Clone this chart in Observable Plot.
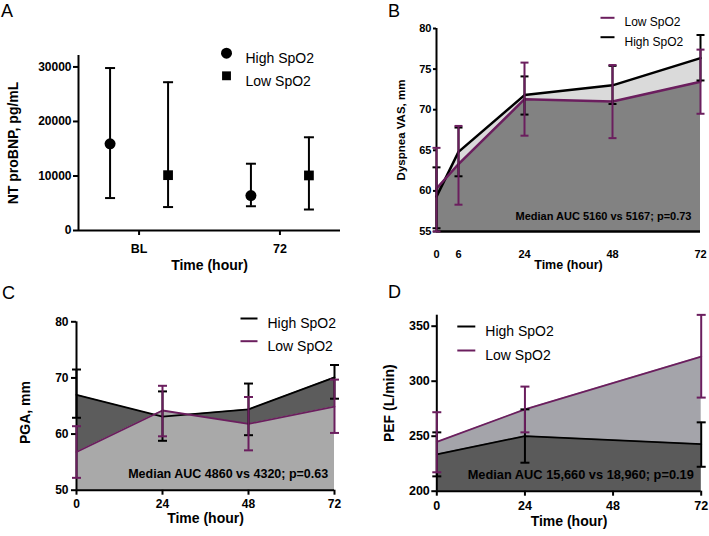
<!DOCTYPE html>
<html><head><meta charset="utf-8">
<script src="https://cdn.jsdelivr.net/npm/d3@7"></script>
<script src="https://cdn.jsdelivr.net/npm/@observablehq/plot@0.6"></script>
<style>
body{margin:0;background:#fff;}
#root{position:relative;width:709px;height:536px;overflow:hidden;font-family:Arial,"Liberation Sans",Helvetica,sans-serif;background:#fff;}
.letter{position:absolute;font-size:18px;line-height:1;color:#000;font-family:Arial,"Liberation Sans",Helvetica,sans-serif;}
</style></head><body><div id="root"></div>
<script>
// ---------- DATA ----------
const groupNames = ["High SpO2", "Low SpO2"];
const timeTitle = "Time (hour)";

// Panel A: NT proBNP (median, IQR)
const ntTimes = ["BL", "72"];
const ntHigh = [15900, 6400];
const ntHighLo = [5950, 4450];
const ntHighHi = [29800, 12250];
const ntLow = [10150, 10100];
const ntLowLo = [4300, 3850];
const ntLowHi = [27200, 17100];
const ntTicks = [0, 10000, 20000, 30000];
const ntTitle = "NT proBNP, pg/mL";

// Panel B: Dyspnea VAS
const dysTimes = [0, 6, 24, 48, 72];
const dysHigh = [59.3, 64.8, 71.8, 73.0, 76.35];
const dysHighLo = [55.4, 61.8, 69.4, 70.7, 73.6];
const dysHighHi = [62.9, 67.8, 74.1, 75.4, 79.2];
const dysLow = [60.3, 63.3, 71.3, 71.0, 73.45];
const dysLowLo = [55.0, 58.3, 66.8, 66.5, 69.5];
const dysLowHi = [65.3, 68.0, 75.8, 75.5, 77.4];
const dysTicks = [55, 60, 65, 70, 75, 80];
const dysTitle = "Dyspnea VAS, mm";
const dysNote = "Median AUC 5160 vs 5167; p=0.73";

// Panel C: PGA
const pgaTimes = [0, 24, 48, 72];
const pgaHigh = [67.0, 63.1, 64.4, 70.1];
const pgaHighLo = [62.9, 58.8, 59.8, 66.3];
const pgaHighHi = [71.5, 67.6, 69.0, 72.3];
const pgaLow = [56.8, 64.2, 61.8, 64.9];
const pgaLowLo = [52.2, 59.6, 57.1, 60.2];
const pgaLowHi = [61.4, 68.6, 66.6, 69.7];
const pgaTicks = [50, 60, 70, 80];
const pgaTitle = "PGA, mm";
const pgaNote = "Median AUC 4860 vs 4320; p=0.63";

// Panel D: PEF
const pefTimes = [0, 24, 72];
const pefHigh = [233.5, 250.1, 242.8];
const pefHighLo = [213.5, 225.9, 222.2];
const pefHighHi = [253.5, 274.4, 262.6];
const pefLow = [244.8, 274.4, 322.4];
const pefLowLo = [217.2, 253.5, 285.1];
const pefLowHi = [271.8, 295.1, 360.3];
const pefTicks = [200, 250, 300, 350];
const pefXTicks = [0, 24, 48, 72];
const pefTitle = "PEF (L/min)";
const pefNote = "Median AUC 15,660 vs 18,960; p=0.19";

// ---------- HELPERS ----------
const FONT = 'Arial, "Liberation Sans", Helvetica, sans-serif';
const PURPLE = "#6b1e5e";
const root = document.getElementById("root");
const cap = w => ({draw(ctx) { ctx.moveTo(-w, 0); ctx.lineTo(w, 0); }});
const rowsOf = (times, h, hl, hh, l, ll, lh) =>
  times.map((t, i) => ({t, i, high: h[i], highLo: hl[i], highHi: hh[i], low: l[i], lowLo: ll[i], lowHi: lh[i]}));
const baseStyle = {fontFamily: FONT, fontWeight: "bold", background: "transparent", overflow: "visible", color: "black"};
function place(svg, left, top) {
  svg.style.position = "absolute";
  svg.style.left = left + "px";
  svg.style.top = top + "px";
  root.appendChild(svg);
}
function letter(txt, left, top) {
  const d = document.createElement("div");
  d.className = "letter"; d.textContent = txt;
  d.style.left = left + "px"; d.style.top = top + "px";
  root.appendChild(d);
}
function errorBars(rows, lo, hi, color, w, sw, dx = 0) {
  return [
    Plot.ruleX(rows, {x: "t", y1: lo, y2: hi, stroke: color, strokeWidth: sw, dx}),
    Plot.dot(rows, {x: "t", y: lo, symbol: cap(w), fill: "none", stroke: color, strokeWidth: sw, dx}),
    Plot.dot(rows, {x: "t", y: hi, symbol: cap(w), fill: "none", stroke: color, strokeWidth: sw, dx})
  ];
}
function legendLine(name, color, half, fs, dx, dy) {
  return [
    Plot.dot([name], {frameAnchor: "top-left", dx, dy, symbol: cap(half), fill: "none", stroke: color, strokeWidth: 2}),
    Plot.text([name], {frameAnchor: "top-left", dx: dx + half + 10, dy, text: d => d, textAnchor: "start", fontWeight: "normal", fontSize: fs, fill: "black"})
  ];
}
function titles(xTitle, yTitle, xs, ys) {
  return [
    Plot.text([xTitle], {frameAnchor: "bottom", dy: xs.dy, text: d => d, fontSize: xs.fs, textAnchor: "middle"}),
    Plot.text([yTitle], {frameAnchor: "left", dx: ys.dx, dy: ys.dy || 0, rotate: -90, text: d => d, fontSize: ys.fs, textAnchor: "middle"})
  ];
}
function note(txt, fs, dx, dy) {
  return Plot.text([txt], {frameAnchor: "bottom-right", dx, dy, text: d => d, textAnchor: "end", fontSize: fs});
}

// ---------- PANEL A ----------
const aRows = ntTimes.map((c, i) => ({t: i, c, high: ntHigh[i], highLo: ntHighLo[i], highHi: ntHighHi[i], low: ntLow[i], lowLo: ntLowLo[i], lowHi: ntLowHi[i]}));
const aX = [-0.43, 1.43];
const aY = [0, 32100];
place(Plot.plot({
  width: 354, height: 268, marginLeft: 78, marginRight: 14, marginTop: 55, marginBottom: 38,
  x: {type: "linear", domain: aX}, y: {domain: aY},
  style: baseStyle,
  marks: [
    Plot.ruleX([aX[0]], {strokeWidth: 2}),
    Plot.ruleY([aY[0]], {strokeWidth: 2}),
    Plot.axisY({ticks: ntTicks, tickFormat: d3.format("d"), tickSize: 5, tickPadding: 2, fontSize: 12, strokeWidth: 2, label: null}),
    Plot.axisX({ticks: [0, 1], tickFormat: i => ntTimes[i], tickSize: 5, tickPadding: 9, fontSize: 12.5, strokeWidth: 2, label: null}),
    ...errorBars(aRows, "highLo", "highHi", "black", 5, 2, -29),
    ...errorBars(aRows, "lowLo", "lowHi", "black", 5, 2, 29),
    Plot.dot(aRows, {x: "t", y: "high", dx: -29, symbol: "circle", r: 5.5, fill: "black"}),
    Plot.dot(aRows, {x: "t", y: "low", dx: 29, symbol: "square", r: 5.5, fill: "black"}),
    Plot.dot([groupNames[0]], {frameAnchor: "top-left", dx: 148, dy: -2.3, symbol: "circle", r: 5.5, fill: "black"}),
    Plot.text([groupNames[0]], {frameAnchor: "top-left", dx: 167, dy: -2.3, text: d => d, textAnchor: "start", fontWeight: "normal", fontSize: 14}),
    Plot.dot([groupNames[1]], {frameAnchor: "top-left", dx: 148, dy: 20.3, symbol: "square", r: 5, fill: "black"}),
    Plot.text([groupNames[1]], {frameAnchor: "top-left", dx: 167, dy: 20.3, text: d => d, textAnchor: "start", fontWeight: "normal", fontSize: 14}),
    ...titles(timeTitle, ntTitle, {dy: 39, fs: 14}, {dx: -65, fs: 14})
  ]
}), 0, 0);

// ---------- PANEL B ----------
const bRows = rowsOf(dysTimes, dysHigh, dysHighLo, dysHighHi, dysLow, dysLowLo, dysLowHi);
const bY = [55, 80];
place(Plot.plot({
  width: 355, height: 268, marginLeft: 82, marginRight: 9, marginTop: 28, marginBottom: 37,
  x: {domain: [0, 72]}, y: {domain: bY},
  style: baseStyle,
  marks: [
    Plot.area(bRows, {x1: "t", y1: () => bY[0], y2: "high", fill: "#dadada"}),
    Plot.area(bRows, {x1: "t", y1: () => bY[0], y2: "low", fill: "#828282"}),
    Plot.ruleY([bY[0]], {strokeWidth: 2.5}),
    Plot.ruleX([0], {strokeWidth: 2}),
    Plot.axisY({ticks: dysTicks, tickSize: 3, tickPadding: 2, fontSize: 11, strokeWidth: 2, label: null}),
    Plot.axisX({ticks: dysTimes, tickSize: 0, tickPadding: 19, fontSize: 11, label: null}),
    Plot.line(bRows, {x: "t", y: "high", stroke: "black", strokeWidth: 2.5}),
    Plot.line(bRows, {x: "t", y: "low", stroke: PURPLE, strokeWidth: 2.5}),
    ...errorBars(bRows, "highLo", "highHi", "black", 4, 2),
    ...errorBars(bRows, "lowLo", "lowHi", PURPLE, 4, 2),
    ...legendLine(groupNames[1], PURPLE, 7, 12, 171, -10.7),
    ...legendLine(groupNames[0], "black", 7, 12, 171, 8.7),
    note(dysNote, 11, -9, -11.7),
    ...titles(timeTitle, dysTitle, {dy: 37.5, fs: 12.5}, {dx: -35.5, fs: 11.5})
  ]
}), 354, 0);

// ---------- PANEL C ----------
const cRows = rowsOf(pgaTimes, pgaHigh, pgaHighLo, pgaHighHi, pgaLow, pgaLowLo, pgaLowHi);
const cY = [50, 80];
place(Plot.plot({
  width: 354, height: 268, marginLeft: 76, marginRight: 20, marginTop: 53.3, marginBottom: 46.3,
  x: {domain: [0, 72]}, y: {domain: cY},
  style: baseStyle,
  marks: [
    Plot.area(cRows, {x1: "t", y1: () => cY[0], y2: "high", fill: "#5c5c5c"}),
    Plot.area(cRows, {x1: "t", y1: () => cY[0], y2: "low", fill: "#a9a9a9"}),
    Plot.ruleY([cY[0]], {strokeWidth: 2}),
    Plot.ruleX([0], {strokeWidth: 2}),
    Plot.axisY({ticks: pgaTicks, tickSize: 5, tickPadding: 3, fontSize: 12, strokeWidth: 2, label: null}),
    Plot.axisX({ticks: pgaTimes, tickSize: 5, tickPadding: 4, fontSize: 12, strokeWidth: 2, label: null}),
    Plot.line(cRows, {x: "t", y: "high", stroke: "black", strokeWidth: 1.8}),
    Plot.line(cRows, {x: "t", y: "low", stroke: PURPLE, strokeWidth: 1.8}),
    ...errorBars(cRows, "highLo", "highHi", "black", 4.5, 2),
    ...errorBars(cRows, "lowLo", "lowHi", PURPLE, 4.5, 2),
    ...legendLine(groupNames[0], "black", 8.5, 14, 172.5, -3.3),
    ...legendLine(groupNames[1], PURPLE, 8.5, 14, 172.5, 19.4),
    note(pgaNote, 12.5, -6.3, -12.4),
    ...titles(timeTitle, pgaTitle, {dy: 33, fs: 14}, {dx: -51, dy: 6.5, fs: 14})
  ]
}), 0, 268);

// ---------- PANEL D ----------
const dRows = rowsOf(pefTimes, pefHigh, pefHighLo, pefHighHi, pefLow, pefLowLo, pefLowHi);
const dY = [200, 360];
place(Plot.plot({
  width: 355, height: 268, marginLeft: 82.3, marginRight: 8.3, marginTop: 46.7, marginBottom: 45.3,
  x: {domain: [0, 72]}, y: {domain: dY},
  style: baseStyle,
  marks: [
    Plot.area(dRows, {x1: "t", y1: () => dY[0], y2: "low", fill: "#a4a4aa"}),
    Plot.area(dRows, {x1: "t", y1: () => dY[0], y2: "high", fill: "#5a5a5a"}),
    Plot.ruleY([dY[0]], {strokeWidth: 2}),
    Plot.ruleX([0], {strokeWidth: 2}),
    Plot.axisY({ticks: pefTicks, tickSize: 5, tickPadding: 2, fontSize: 12.5, strokeWidth: 2, label: null}),
    Plot.axisX({ticks: pefXTicks, tickSize: 5, tickPadding: 5, fontSize: 12.5, strokeWidth: 2, label: null}),
    Plot.line(dRows, {x: "t", y: "high", stroke: "black", strokeWidth: 1.8}),
    Plot.line(dRows, {x: "t", y: "low", stroke: PURPLE, strokeWidth: 1.8}),
    ...errorBars(dRows, "highLo", "highHi", "black", 4.5, 2),
    ...errorBars(dRows, "lowLo", "lowHi", PURPLE, 4.5, 2),
    ...legendLine(groupNames[0], "black", 9, 14, 29.5, 11.3),
    ...legendLine(groupNames[1], PURPLE, 9, 14, 29.5, 35.3),
    note(pefNote, 12.8, -7.4, -12),
    ...titles(timeTitle, pefTitle, {dy: 35, fs: 14}, {dx: -47.3, fs: 14})
  ]
}), 354, 268);

// Panel letters
letter("A", 1, 1.5);
letter("B", 388, 1.5);
letter("C", 2, 283.8);
letter("D", 388, 282.8);
</script></body></html>
